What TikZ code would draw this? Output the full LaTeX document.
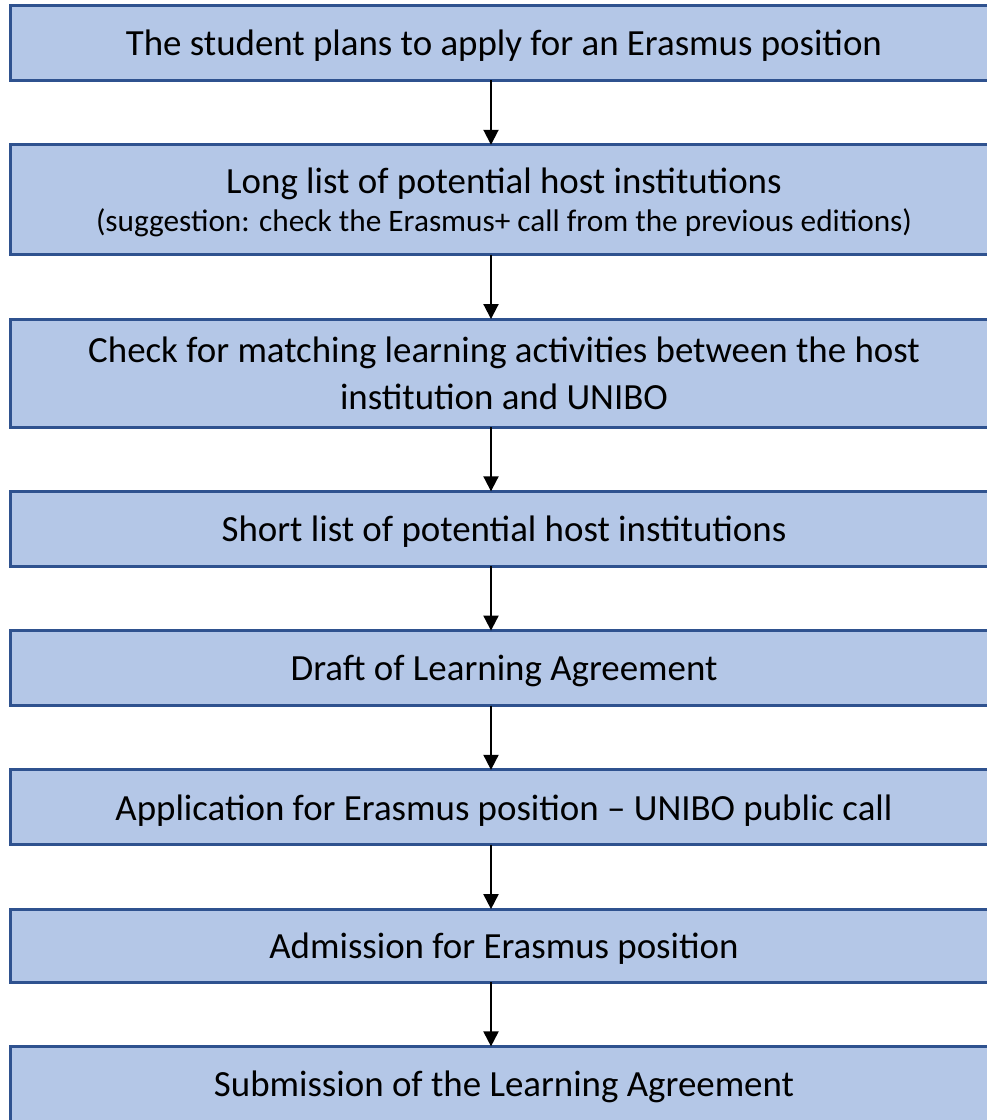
\documentclass[tikz,border=0pt]{standalone}
\usepackage{fontspec}
\setmainfont{Carlito}
\usepackage{xcolor}
\usetikzlibrary{positioning,arrows.meta}
\definecolor{boxfill}{HTML}{B4C7E7}
\definecolor{boxline}{HTML}{2F528F}
\newcommand{\bigtxt}{\fontsize{21pt}{26.6pt}\selectfont}
\newcommand{\smalltxt}{\fontsize{17.8pt}{21pt}\selectfont}

\begin{document}
\begin{tikzpicture}[x=0.02cm,y=-0.02cm,
    every node/.style={node distance=1.286cm},
    stepbox/.style={draw=boxline,fill=boxfill,line width=1.7pt,outer sep=0pt,
      minimum width=19.76cm,minimum height=1.50cm,align=center,
      inner sep=0pt,text depth=0pt,font=\bigtxt},
    flow/.style={-{Triangle[length=0.3cm,width=0.3cm]},line width=1.1pt}]
    \useasboundingbox (0,0) rectangle (987,1120);
    \coordinate (axis) at (491,0);
    \node[stepbox] (plan) at (504,43) {The student plans to apply for an Erasmus position};
    \node[stepbox,minimum height=2.20cm,below=of plan] (longlist)
      {Long list of potential host institutions\\[-4.8pt]
       {\smalltxt (suggestion: check the Erasmus+ call from the previous editions)}};
    \node[stepbox,minimum height=2.16cm,below=of longlist] (match)
      {Check for matching learning activities between the host\\institution and UNIBO};
    \node[stepbox,below=of match] (shortlist) {Short list of potential host institutions};
    \node[stepbox,below=of shortlist] (draft) {Draft of Learning Agreement};
    \node[stepbox,below=of draft] (apply) {Application for Erasmus position -- UNIBO public call};
    \node[stepbox,minimum height=1.46cm,below=of apply] (admit) {Admission for Erasmus position};
    \node[stepbox,below=of admit] (submit) {Submission of the Learning Agreement};
    \draw[flow] (plan.south -| axis) -- (longlist.north -| axis);
    \draw[flow] (longlist.south -| axis) -- (match.north -| axis);
    \draw[flow] (match.south -| axis) -- (shortlist.north -| axis);
    \draw[flow] (shortlist.south -| axis) -- (draft.north -| axis);
    \draw[flow] (draft.south -| axis) -- (apply.north -| axis);
    \draw[flow] (apply.south -| axis) -- (admit.north -| axis);
    \draw[flow] (admit.south -| axis) -- (submit.north -| axis);
  \end{tikzpicture}
\end{document}
